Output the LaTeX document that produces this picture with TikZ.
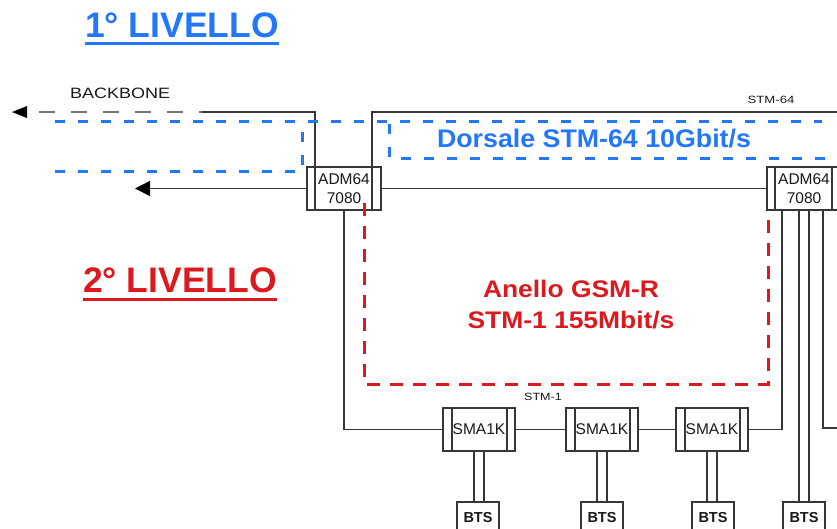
\documentclass[tikz,border=0pt]{standalone}
\usepackage{fontspec}
\setmainfont{Liberation Sans}
\usepackage{graphicx}
\usetikzlibrary{arrows.meta,calc}
\definecolor{lineg}{RGB}{55,55,55}
\definecolor{dashg}{RGB}{120,120,120}
\definecolor{bluel}{RGB}{35,120,250}
\definecolor{redl}{RGB}{220,25,30}
\definecolor{txtg}{RGB}{25,25,25}
\begin{document}
\begin{tikzpicture}[x=1pt,y=-1pt,
  conn/.style={draw=lineg,line width=1.4pt},
  dev/.style={draw=lineg,line width=1.5pt,fill=white,rectangle,inner sep=0pt,align=center,text=txtg},
  innerlines/.style 2 args={path picture={
    \draw[lineg,line width=1.3pt] ([xshift=#1]path picture bounding box.north west) -- ([xshift=#1]path picture bounding box.south west);
    \draw[lineg,line width=1.3pt] ([xshift=-#2]path picture bounding box.north east) -- ([xshift=-#2]path picture bounding box.south east);}},
  admbox/.style={dev,minimum width=74pt,minimum height=43pt,font=\fontsize{15.5}{19}\selectfont,innerlines={8pt}{9pt}},
  smabox/.style={dev,minimum width=72pt,minimum height=43pt,font=\fontsize{15.5}{18}\selectfont,innerlines={9pt}{8pt}},
  btsbox/.style={dev,minimum width=42pt,minimum height=31pt,font=\fontsize{14.5}{18}\selectfont\bfseries},
  bluedash/.style={draw=bluel,line width=3pt,dash pattern=on 10pt off 13pt},
  reddash/.style={draw=redl,line width=3pt,dash pattern=on 13pt off 10pt},
  title/.style={anchor=base west,inner sep=0pt,font=\fontsize{35.5}{40}\selectfont\bfseries},
  small/.style={inner sep=0pt,text=txtg,font=\fontsize{10.5}{12}\selectfont}
]
\useasboundingbox (0,0) rectangle (837,528);
\clip (0,0) rectangle (837,528);

% titles
\node[title,text=bluel] (t1) at (85,37) {1° LIVELLO};
\draw[bluel,line width=3pt] ($(t1.base west)+(0,6)$) -- ($(t1.base east)+(0,6)$);
\node[title,text=redl] (t2) at (83,292) {2° LIVELLO};
\draw[redl,line width=3pt] ($(t2.base west)+(0,7)$) -- ($(t2.base east)+(0,7)$);

% labels
\node[anchor=base west,inner sep=0pt,text=txtg,font=\fontsize{15}{18}\selectfont] (bb) at (70,98) {\scalebox{1.2}[1]{BACKBONE}};
\node[small,anchor=base] (stm64) at (771,103) {\scalebox{1.25}[1]{STM-64}};
\node[small,anchor=base] (stm1) at (543,400) {\scalebox{1.2}[1]{STM-1}};
\node[anchor=base,inner sep=0pt,text=bluel,font=\fontsize{25.5}{30}\selectfont\bfseries] (dors) at (594,147) {\scalebox{1.05}[1]{Dorsale STM-64 10Gbit/s}};
\node[anchor=base,inner sep=0pt,text=redl,font=\fontsize{24}{30}\selectfont\bfseries] (an1) at (571,297) {\scalebox{1.1}[1]{Anello GSM-R}};
\node[anchor=base,inner sep=0pt,text=redl,font=\fontsize{24}{30}\selectfont\bfseries] (an2) at (571,328) {\scalebox{1.1}[1]{STM-1 155Mbit/s}};

% coordinates
\coordinate (bbsolid) at (202,112);
\coordinate (bbdash) at (39,112);
\coordinate (east1) at (837,112);
\coordinate (arrL) at (135,188.5);
\coordinate (eastS) at (837,428);

% device nodes
\node[admbox] (adm1) at (344,188.5) {ADM64\\7080};
\node[admbox] (adm2) at (804,188.5) {ADM64\\7080};
\node[smabox] (sma1) at (479,429.5) {SMA1K};
\node[smabox] (sma2) at (602,429.5) {SMA1K};
\node[smabox] (sma3) at (712,429.5) {SMA1K};
\node[btsbox] (bts1) at (478,517.5) {BTS};
\node[btsbox] (bts2) at (602,517.5) {BTS};
\node[btsbox] (bts3) at (713,517.5) {BTS};
\node[btsbox] (bts4) at (804,517.5) {BTS};

% connectors
\draw[conn] ([xshift=-29pt]adm1.north) |- (bbsolid);
\draw[draw=dashg,line width=2.2pt,dash pattern=on 16pt off 16pt] (bbdash) -- (bbsolid);
\fill[black] (12,112) -- (27,106) -- (27,118) -- cycle;
\draw[conn] ([xshift=28pt]adm1.north) |- (east1);
\draw[conn,-{Triangle[length=15pt,width=15pt,color=black]}] (adm1.west) -- (arrL);
\draw[conn] (adm1.east) -- (adm2.west);
\draw[conn] (adm1.south) |- (sma1.west);
\draw[conn] (sma1.east) -- (sma2.west);
\draw[conn] (sma2.east) -- (sma3.west);
\draw[conn] ([xshift=-22pt]adm2.south) |- (sma3.east);
\draw[conn] ([xshift=-5pt]adm2.south) -- ([xshift=-5pt]adm2.south |- bts4.north);
\draw[conn] ([xshift=5pt]adm2.south) -- ([xshift=5pt]adm2.south |- bts4.north);
\draw[conn] ([xshift=19pt]adm2.south) |- (eastS);
\foreach \s/\b in {sma1/bts1,sma2/bts2,sma3/bts3}{
  \draw[conn,line width=1.3pt] ([xshift=-5pt]\s.south) -- ([xshift=-5pt]\s.south |- \b.north);
  \draw[conn,line width=1.3pt] ([xshift=5pt]\s.south) -- ([xshift=5pt]\s.south |- \b.north);
}

% blue dashed backbone region
\draw[bluedash] (55,121) -- (822,121);
\draw[bluedash] (55,171) -- (302,171) -- (302,124);
\draw[bluedash] (389,124) -- (389,158) -- (837,158);

% red dashed ring region
\draw[reddash] (364,203) -- (364,384) -- (768,384) -- (768,210);
\end{tikzpicture}
\end{document}
